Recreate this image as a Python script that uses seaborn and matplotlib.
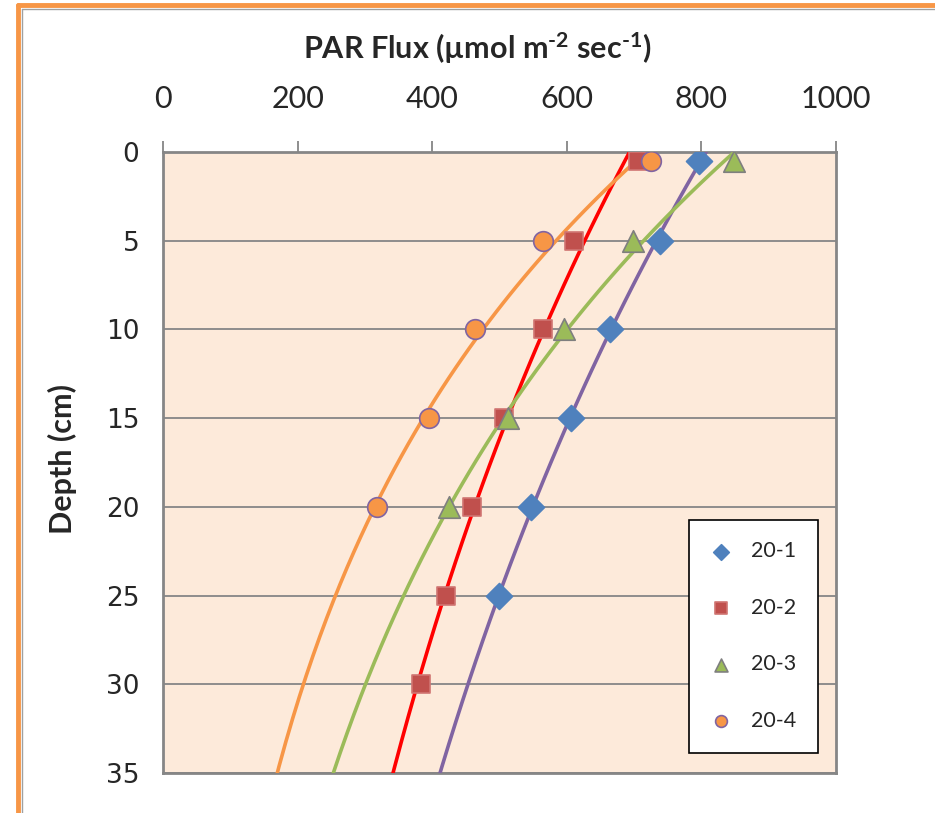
import matplotlib
matplotlib.use("Agg")
import matplotlib.pyplot as plt
from matplotlib.lines import Line2D
import numpy as np
import pandas as pd
import seaborn as sns

# depth (cm) of each reading, deepest reading differs by run
depth = [0.5, 5, 10, 15, 20, 25, 30]

flux_20_1 = [796, 738, 664, 606, 547, 500]
flux_20_2 = [706, 611, 564, 507, 459, 420, 384]
flux_20_3 = [848, 698, 596, 513, 425]
flux_20_4 = [725, 564, 463, 395, 318]

runs = ["20-1", "20-2", "20-3", "20-4"]
values = [flux_20_1, flux_20_2, flux_20_3, flux_20_4]

x_ticks = [0, 200, 400, 600, 800, 1000]
y_ticks = [0, 5, 10, 15, 20, 25, 30, 35]

# marker style / trendline colour for each run
styles = {
    "20-1": dict(marker="D", face="#4F81BD", edge="#4F81BD", s=175, line="#8064A2"),
    "20-2": dict(marker="s", face="#C0504D", edge="#D07572", s=180, line="#FF0000"),
    "20-3": dict(marker="^", face="#9BBB59", edge="#7F7F7F", s=240, line="#9BBB59"),
    "20-4": dict(marker="o", face="#F79646", edge="#8064A2", s=200, line="#F79646"),
}

sns.set_theme(style="white")
plt.rcParams["font.family"] = ["Lato", "DejaVu Sans"]
plt.rcParams["mathtext.fontset"] = "custom"
plt.rcParams["mathtext.rm"] = "Lato:bold"
plt.rcParams["mathtext.bf"] = "Lato:bold"
plt.rcParams["mathtext.it"] = "Lato:bold"

fig = plt.figure(figsize=(9.35, 8.13), dpi=100)
ax = fig.add_axes([0.1743, 0.0492, 0.7198, 0.7638])
ax.set_facecolor("#FDEADA")

ax.set_xlim(1, 1000)
ax.set_ylim(35, 0)

for run, vals in zip(runs, values):
    df = pd.DataFrame({"flux": vals, "depth": depth[:len(vals)]})
    st = styles[run]
    # logarithmic trendline, like the spreadsheet one
    sns.regplot(data=df, x="flux", y="depth", logx=True, ci=None,
                truncate=False, scatter=False, ax=ax,
                line_kws=dict(color=st["line"], lw=2.6, zorder=3))

for run, vals in zip(runs, values):
    df = pd.DataFrame({"flux": vals, "depth": depth[:len(vals)]})
    st = styles[run]
    sns.scatterplot(data=df, x="flux", y="depth", marker=st["marker"],
                    color=st["face"], edgecolor=st["edge"], linewidth=1.2,
                    s=st["s"], label=run, ax=ax, zorder=4)

ax.set_xlim(0, 1000)
ax.set_ylim(35, 0)

ax.xaxis.tick_top()
ax.xaxis.set_label_position("top")
ax.set_xticks(x_ticks)
ax.set_yticks(y_ticks)
ax.tick_params(axis="x", labelsize=22, length=8, width=1.3, color="#868686",
               direction="out", pad=20)
ax.tick_params(axis="y", labelsize=19, length=8, width=1.3, color="#868686",
               direction="out", pad=9)
for lab in ax.get_yticklabels():
    lab.set_family("DejaVu Sans")

ax.set_xlabel("PAR Flux (µmol m$^{\u20102}$ sec$^{\u20101}$)", fontsize=22,
              fontweight="bold")
ax.xaxis.set_label_coords(0.467, 1.15)
ax.set_ylabel("Depth (cm)", fontsize=22, fontweight="bold")
ax.yaxis.set_label_coords(-0.128, 0.505)

ax.yaxis.grid(True, color="#868686", lw=1.3)
ax.xaxis.grid(False)
for sp in ax.spines.values():
    sp.set_color("#868686")
    sp.set_linewidth(2)

leg = ax.legend(loc="lower right", bbox_to_anchor=(0.973, 0.033),
                fontsize=15.5, frameon=True, fancybox=False,
                labelspacing=1.7, borderpad=1.0, handlelength=1.0,
                handletextpad=0.9, markerscale=0.6, borderaxespad=0)
leg.get_frame().set_edgecolor("black")
leg.get_frame().set_linewidth(1.2)
leg.get_frame().set_facecolor("white")
leg.get_frame().set_alpha(1)

# orange chart border along top and left edge
fig.add_artist(Line2D([0.019, 1.0], [0.994, 0.994], color="#F79646", lw=3.5))
fig.add_artist(Line2D([0.019, 0.019], [0.0, 0.994], color="#F79646", lw=3.5))
fig.add_artist(Line2D([0.023, 1.0], [0.989, 0.989], color="#A0A0A0", lw=1))
fig.add_artist(Line2D([0.023, 0.023], [0.0, 0.989], color="#A0A0A0", lw=1))

fig.savefig("out.png", dpi=100)
